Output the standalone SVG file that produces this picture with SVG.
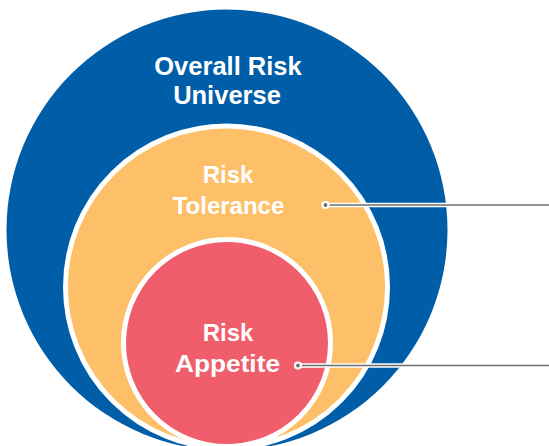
<svg xmlns="http://www.w3.org/2000/svg" width="549" height="446" viewBox="0 0 549 446">
  <style>
    .lbl { font-family: "Liberation Sans", Arial, sans-serif; font-weight: bold; fill: #ffffff; text-anchor: middle; }
    .ring { stroke: #ffffff; stroke-width: 5; }
    .halo { stroke: #ffffff; stroke-width: 4.5; fill: none; }
    .wire { stroke: #6d6e71; stroke-width: 1.6; fill: none; }
    .dot { fill: #6d6e71; stroke: #ffffff; stroke-width: 2.2; }
  </style>
  <rect width="549" height="446" fill="#ffffff"/>
  <g id="overall-risk-universe">
    <circle cx="227" cy="230" r="220.5" fill="#005da8"/>
    <text class="lbl" x="228" y="75" font-size="25.5">Overall Risk</text>
    <text class="lbl" x="227" y="103.5" font-size="25.5">Universe</text>
  </g>
  <g id="risk-tolerance">
    <circle class="ring" cx="226.5" cy="287" r="161" fill="#fdbf67"/>
    <text class="lbl" x="228" y="182.5" font-size="24">Risk</text>
    <text class="lbl" x="228.5" y="213.5" font-size="24">Tolerance</text>
  </g>
  <g id="risk-appetite">
    <circle class="ring" cx="227" cy="343" r="103.5" fill="#f05d6b"/>
    <text class="lbl" x="228" y="340.5" font-size="24">Risk</text>
    <text class="lbl" x="227.5" y="372" font-size="24" textLength="105" lengthAdjust="spacingAndGlyphs">Appetite</text>
  </g>
  <g id="connectors">
    <line class="halo" x1="325" y1="205" x2="549" y2="205"/>
    <line class="wire" x1="325" y1="205" x2="549" y2="205"/>
    <circle class="dot" cx="325.5" cy="205" r="3"/>
    <line class="halo" x1="298" y1="365.5" x2="549" y2="365.5"/>
    <line class="wire" x1="298" y1="365.5" x2="549" y2="365.5"/>
    <circle class="dot" cx="298" cy="365.5" r="3"/>
  </g>
</svg>
